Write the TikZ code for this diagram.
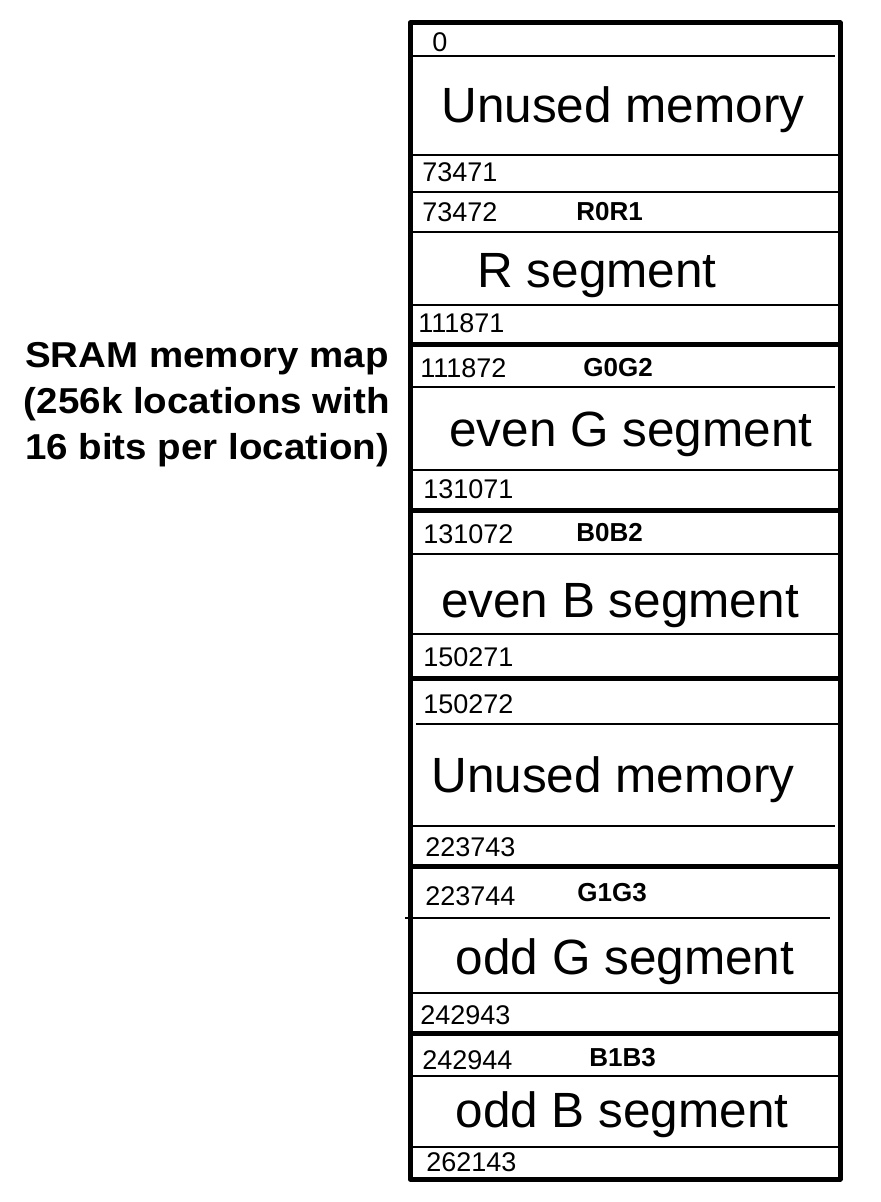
\documentclass[tikz,border=0pt]{standalone}
\usepackage{fontspec}
\setmainfont{Liberation Sans}
\begin{document}
\begin{tikzpicture}[x=0.5pt,y=-0.5pt,
  num/.style={anchor=west,inner sep=0pt,font=\fontsize{13.5}{16}\selectfont},
  lab/.style={anchor=west,inner sep=0pt,font=\fontsize{13}{16}\selectfont\bfseries},
  big/.style={anchor=base,inner sep=0pt,font=\fontsize{24.75}{30}\selectfont},
  thickline/.style={line width=2.5pt},
  thinline/.style={line width=0.75pt},
  title/.style={align=center,inner sep=0pt,xscale=1.07,transform shape,font=\fontsize{18}{23}\selectfont\bfseries}]
\useasboundingbox (0,0) rectangle (880,1202);
% frame and separators
\coordinate (tl) at (410,23);
\coordinate (br) at (840,1179);
\draw[thickline,line join=round] (tl) rectangle (br);
\foreach \yy in {345,510,678,866,1033}
  \draw[thickline] (410,\yy) -- (840,\yy);
\foreach \yy in {155,192,232,305,470,554,634,993,1076,1147}
  \draw[thinline] (412,\yy) -- (838,\yy);
\draw[thinline] (412,56) -- (835,56);
\draw[thinline] (412,387) -- (835,387);
\draw[thinline] (416,724) -- (838,724);
\draw[thinline] (412,826) -- (835,826);
\draw[thinline] (405,918) -- (830,918);
% title
\node[title] (ttl) at (207,405) {SRAM memory map\\(256k locations with\\16 bits per location)};
% addresses
\node[num] (a0) at (432,42) {0};
\node[num] (a1) at (422,172) {73471};
\node[num] (a2) at (422,212) {73472};
\node[num] (a3) at (418,323) {111871};
\node[num] (a4) at (420,368) {111872};
\node[num] (a5) at (423,489) {131071};
\node[num] (a6) at (423,534) {131072};
\node[num] (a7) at (423,657) {150271};
\node[num] (a8) at (423,704) {150272};
\node[num] (a9) at (425,847) {223743};
\node[num] (a10) at (425,896) {223744};
\node[num] (a11) at (420,1015) {242943};
\node[num] (a12) at (422,1060) {242944};
\node[num] (a13) at (426,1162) {262143};
% labels
\node[lab] (l1) at (576,212) {R0R1};
\node[lab] (l2) at (583,368) {G0G2};
\node[lab] (l3) at (576,533) {B0B2};
\node[lab] (l4) at (577,893) {G1G3};
\node[lab] (l5) at (589,1058) {B1B3};
% segment names
\node[big] (s1) at (623,123) {Unused memory};
\node[big] (s2) at (597,288) {R segment};
\node[big] (s3) at (631,447) {even G segment};
\node[big] (s4) at (620,617) {even B segment};
\node[big] (s5) at (613,792) {Unused memory};
\node[big] (s6) at (625,974) {odd G segment};
\node[big] (s7) at (622,1127) {odd B segment};
\end{tikzpicture}
\end{document}
